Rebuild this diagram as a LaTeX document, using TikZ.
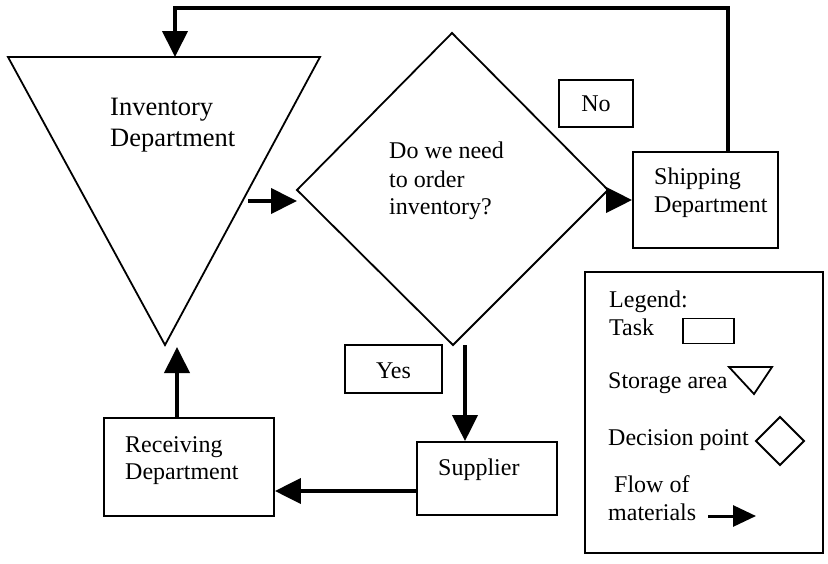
\documentclass[tikz,border=0pt]{standalone}
\usepackage{fontspec}
\setmainfont{Liberation Serif}
\usetikzlibrary{arrows.meta}
\begin{document}
\begin{tikzpicture}[x=1pt,y=-1pt,
  box/.style={draw, line width=1.8pt, inner sep=0pt},
  shapeline/.style={line width=1.8pt, line join=miter},
  lbl/.style={anchor=base west, inner sep=0pt, font=\fontsize{24}{28}\selectfont},
  lblc/.style={anchor=base, inner sep=0pt, font=\fontsize{24}{28}\selectfont},
  biglbl/.style={anchor=base west, inner sep=0pt, font=\fontsize{26.5}{31}\selectfont},
  flow/.style={line width=4pt, line join=miter, -{Triangle[length=26pt,width=25pt]}},
  smallflow/.style={line width=3pt, -{Triangle[length=23pt,width=21pt]}},
  ]
\useasboundingbox (0,0) rectangle (828,563);

% storage area: Inventory Department (inverted triangle)
\coordinate (invTL) at (8,57);
\coordinate (invTR) at (320,57);
\coordinate (invB)  at (165,345);
\draw[shapeline] (invTL) -- (invTR) -- (invB) -- cycle;
\node[biglbl] (invA) at (110,115) {Inventory};
\node[biglbl] (invC) at (110,146) {Department};

% decision point
\coordinate (dT) at (452,33);
\coordinate (dR) at (608,190);
\coordinate (dB) at (453,345);
\coordinate (dL) at (297,190);
\draw[shapeline] (dT) -- (dR) -- (dB) -- (dL) -- cycle;
\node[lbl] (qA) at (389,158) {Do we need};
\node[lbl] (qB) at (389,187) {to order};
\node[lbl] (qC) at (389,214) {inventory?};

% task boxes
\node[box, minimum width=145pt, minimum height=96pt] (ship) at (705.5,200) {};
\node[lbl] (shipA) at (654,184) {Shipping};
\node[lbl] (shipB) at (654,212) {Department};

\node[box, minimum width=140pt, minimum height=73pt] (supp) at (487,478.5) {};
\node[lbl] (suppA) at (438,475) {Supplier};

\node[box, minimum width=170pt, minimum height=98pt] (recv) at (189,467) {};
\node[lbl] (recvA) at (125,452) {Receiving};
\node[lbl] (recvB) at (125,479) {Department};

% answer labels
\node[box, minimum width=97pt, minimum height=48pt] (yes) at (393.5,369) {};
\node[lblc] (yesT) at (393.5,378) {Yes};
\node[box, minimum width=74pt, minimum height=47pt] (no) at (596,103.5) {};
\node[lblc] (noT) at (596,111) {No};

% flows of materials
\coordinate (invOut) at (248,201);
\coordinate (dIn)    at (297,201);
\draw[flow] (invOut) -- (dIn);

\coordinate (dOut) at (606,200);
\draw[flow] (dOut) -- (dOut -| ship.west);

\coordinate (shipUp)  at (728,152);
\coordinate (loopR)   at (728,8);
\coordinate (loopL)   at (175,8);
\coordinate (invTop)  at (175,57);
\draw[flow] (shipUp) -- (loopR) -- (loopL) -- (invTop);

\coordinate (dDown) at (465,345);
\draw[flow] (dDown) -- (dDown |- supp.north);

\coordinate (suppOut) at (417,491);
\draw[flow] (suppOut) -- (suppOut -| recv.east);

\coordinate (recvUp) at (177,418);
\coordinate (invIn)  at (177,347);
\draw[flow] (recvUp) -- (invIn);

% legend
\node[draw, line width=2.6pt, minimum width=238pt, minimum height=281pt, inner sep=0pt] (legend) at (704,412.5) {};
\node[lbl] (lgA) at (609,307) {Legend:};
\node[lbl] (lgB) at (609,335) {Task};
\node[box, minimum width=51pt, minimum height=25pt] (lgTask) at (708.5,331) {};
\node[lbl] (lgC) at (608,388) {Storage area};
\draw[shapeline] (729,367) -- (772,367) -- (754,394) -- cycle;
\node[lbl] (lgD) at (608,445) {Decision point};
\draw[shapeline] (756,441) -- (780,417) -- (804,441) -- (780,465) -- cycle;
\node[lbl] (lgE) at (614,492) {Flow of};
\node[lbl] (lgF) at (608,520) {materials};
\coordinate (lgArrA) at (708,516);
\coordinate (lgArrB) at (756,516);
\draw[smallflow] (lgArrA) -- (lgArrB);
\end{tikzpicture}
\end{document}
